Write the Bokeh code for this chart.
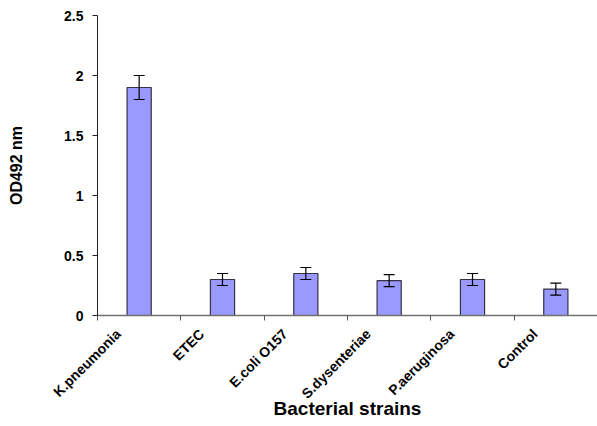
import math
from bokeh.plotting import figure
from bokeh.models import ColumnDataSource, Range1d, FixedTicker, CustomJSTickFormatter, Whisker, TeeHead
from bokeh.embed import file_html
from bokeh.resources import INLINE

categories = ["K.pneumonia", "ETEC", "E.coli O157", "S.dysenteriae", "P.aeruginosa", "Control"]
od_values = [1.90, 0.30, 0.35, 0.29, 0.30, 0.22]
od_errors = [0.10, 0.05, 0.05, 0.05, 0.05, 0.05]
y_ticks = [0, 0.5, 1, 1.5, 2, 2.5]

xs = [i + 0.5 for i in range(len(categories))]
label_pos = [i + 0.25 for i in range(len(categories))]
src = ColumnDataSource(dict(
    x=xs, top=od_values,
    upper=[v + e for v, e in zip(od_values, od_errors)],
    lower=[v - e for v, e in zip(od_values, od_errors)],
))

p = figure(width=597, height=426, output_backend="svg", toolbar_location=None,
           x_range=Range1d(0, len(categories)), y_range=Range1d(0, 2.5),
           min_border_left=97, min_border_right=0, min_border_top=15, min_border_bottom=111)
p.outline_line_color = None
p.xgrid.visible = False
p.ygrid.visible = False
p.background_fill_color = "white"

p.vbar(x="x", top="top", width=0.29, source=src, fill_color="#9999FF",
       line_color="#333344", line_width=1.2)

w = Whisker(source=src, base="x", upper="upper", lower="lower",
            line_color="black", line_width=1.2, level="overlay",
            upper_head=TeeHead(size=11, line_color="black", line_width=1.2),
            lower_head=TeeHead(size=11, line_color="black", line_width=1.2))
p.add_layout(w)

font = "Liberation Sans"

# x axis
p.xaxis.ticker = FixedTicker(ticks=label_pos, minor_ticks=list(range(len(categories) + 1)))
p.xaxis.formatter = CustomJSTickFormatter(args=dict(labels=categories),
                                          code="return labels[Math.floor(tick)];")
p.xaxis.major_tick_out = 0
p.xaxis.major_tick_in = 0
p.xaxis.major_tick_line_color = None
p.xaxis.minor_tick_out = 5
p.xaxis.minor_tick_in = 0
p.xaxis.minor_tick_line_color = "#555555"
p.xaxis.axis_line_color = "#707070"
p.xaxis.axis_line_width = 1.5
p.xaxis.major_label_orientation = math.pi / 4
p.xaxis.major_label_standoff = 11
p.xaxis.major_label_text_font = font
p.xaxis.major_label_text_font_style = "bold"
p.xaxis.major_label_text_font_size = "14px"
p.xaxis.major_label_text_color = "black"
p.xaxis.axis_label = "Bacterial strains"
p.xaxis.axis_label_text_font = font
p.xaxis.axis_label_text_font_style = "bold"
p.xaxis.axis_label_text_font_size = "19px"
p.xaxis.axis_label_text_color = "black"
p.xaxis.axis_label_standoff = -12

# y axis
p.yaxis.ticker = FixedTicker(ticks=y_ticks)
p.yaxis.minor_tick_line_color = None
p.yaxis.major_tick_out = 5
p.yaxis.major_tick_in = 0
p.yaxis.major_tick_line_color = "#222222"
p.yaxis.axis_line_color = "#222222"
p.yaxis.major_label_standoff = 9
p.yaxis.major_label_text_font = font
p.yaxis.major_label_text_font_style = "bold"
p.yaxis.major_label_text_font_size = "14px"
p.yaxis.major_label_text_color = "black"
p.yaxis.axis_label = "OD492 nm"
p.yaxis.axis_label_text_font = font
p.yaxis.axis_label_text_font_style = "bold"
p.yaxis.axis_label_text_font_size = "16px"
p.yaxis.axis_label_text_color = "black"
p.yaxis.axis_label_standoff = 36

open("out.html", "w").write(file_html(p, INLINE))
